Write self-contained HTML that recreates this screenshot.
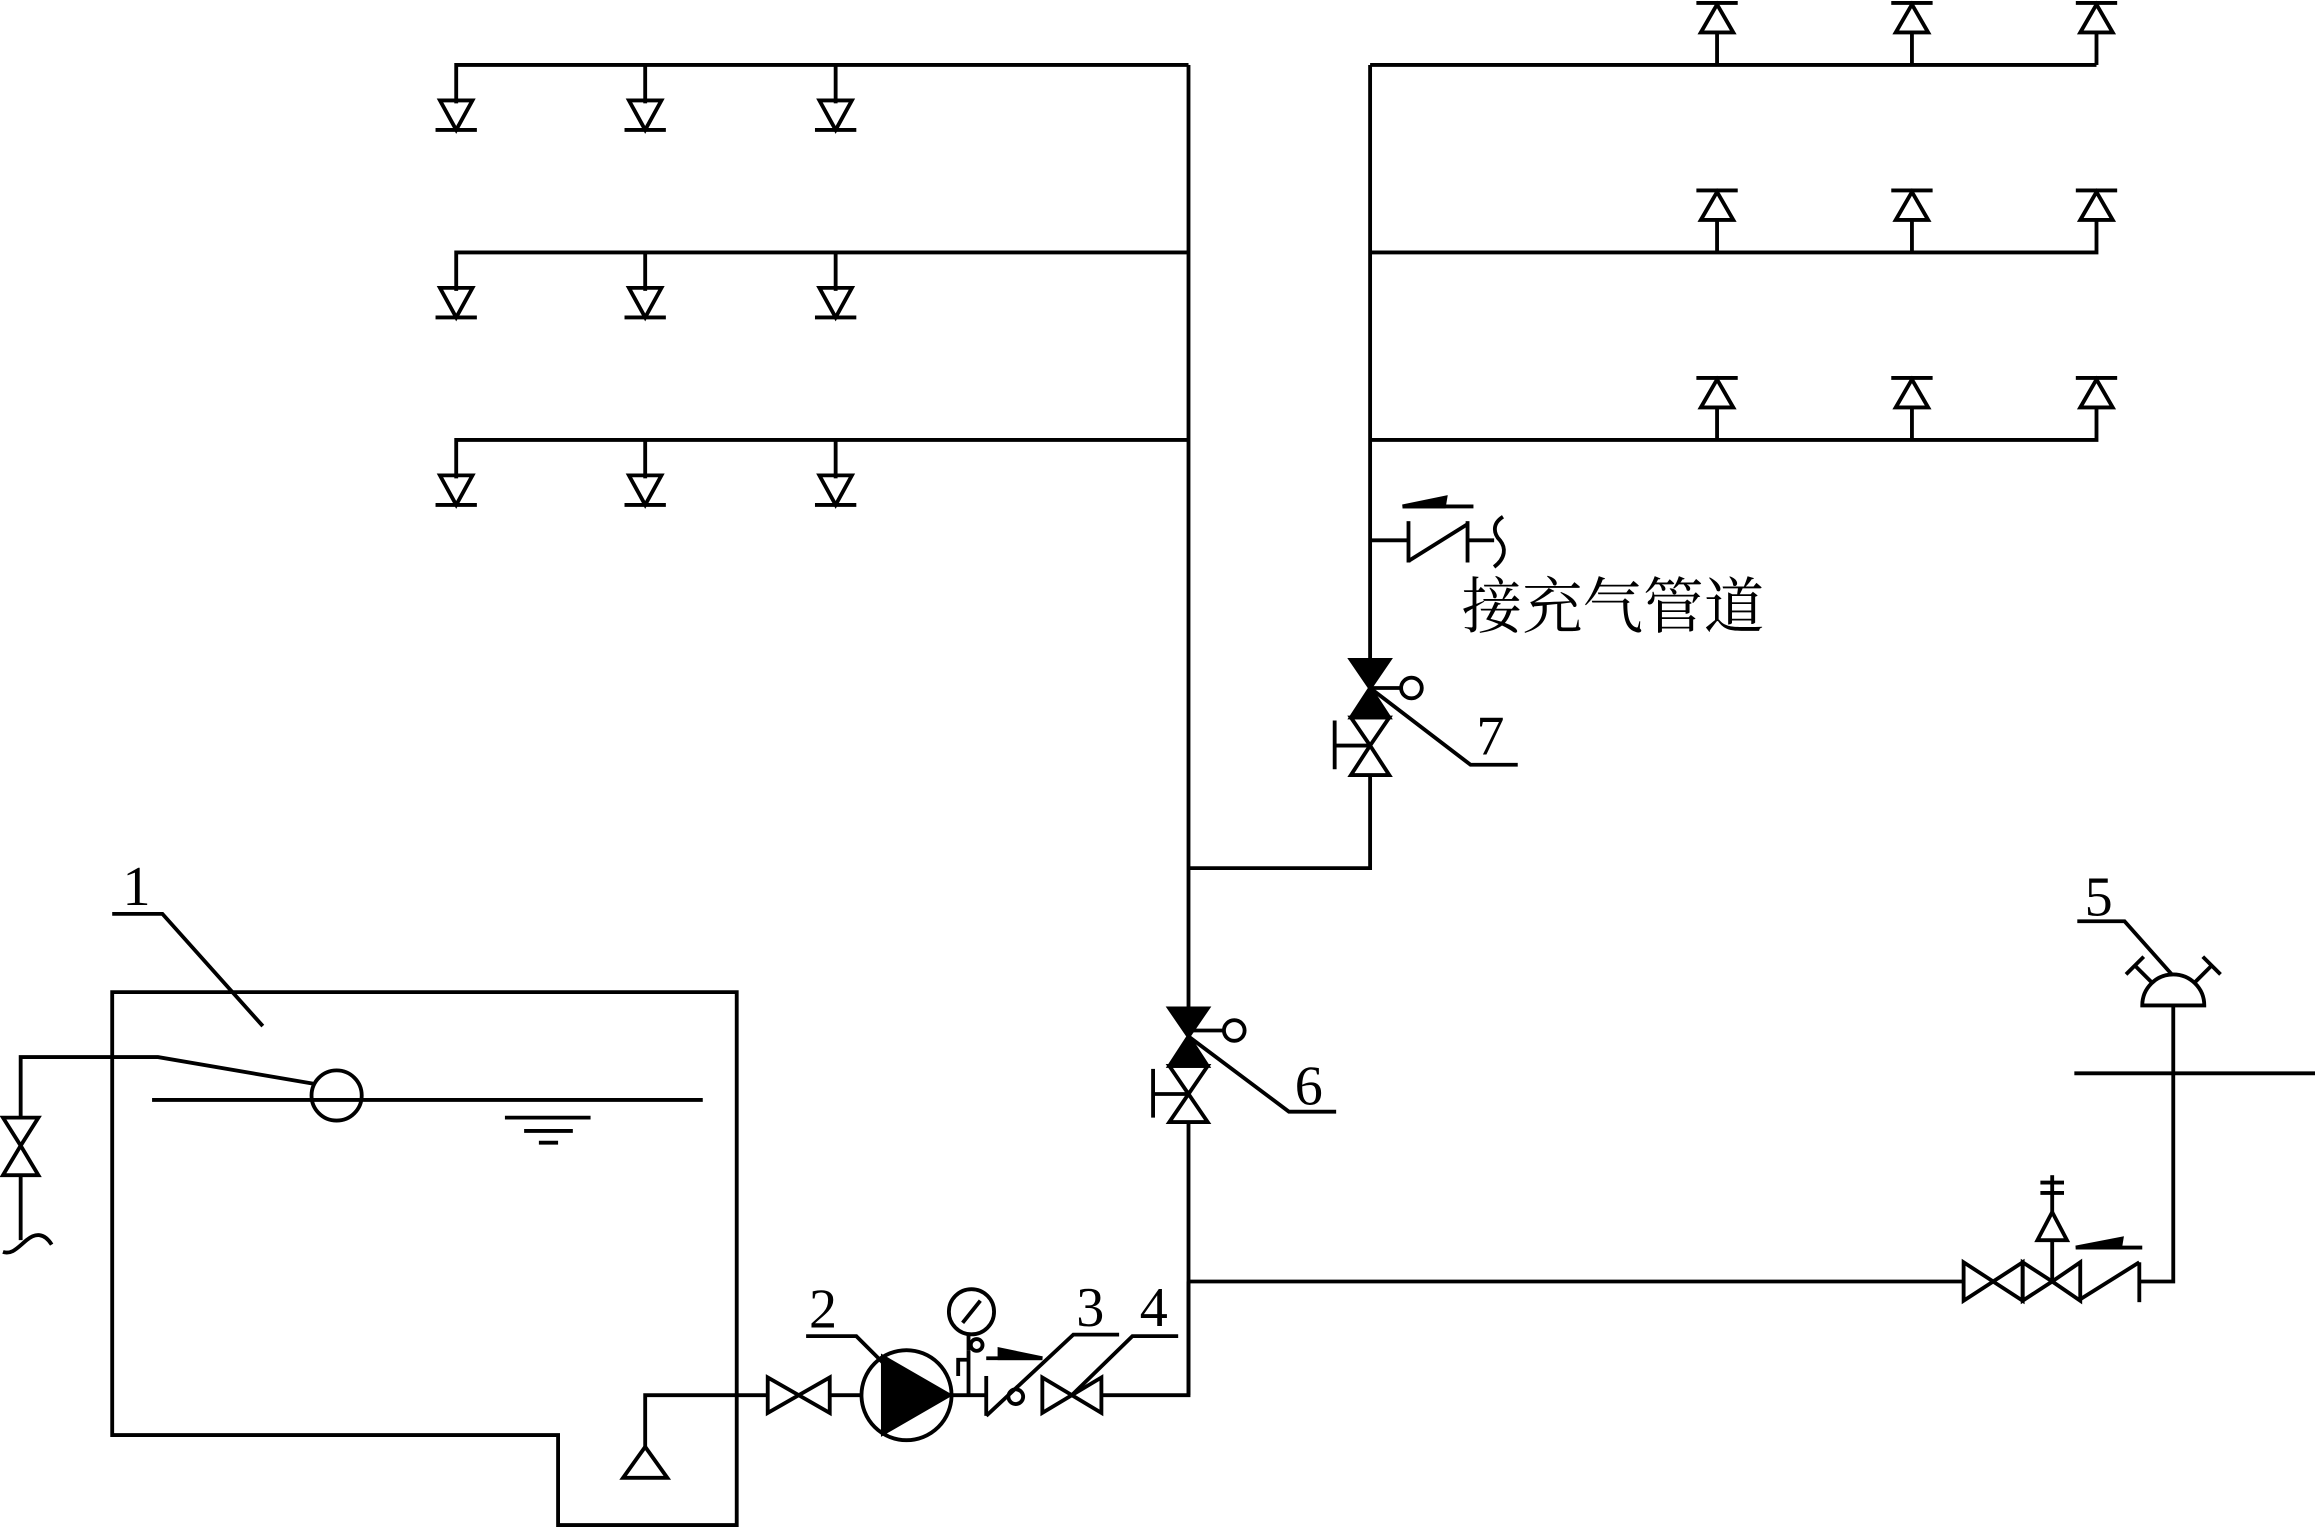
<!DOCTYPE html>
<html><head><meta charset="utf-8"><style>html,body{margin:0;padding:0;background:#fff}svg{display:block}</style></head>
<body>
<svg width="2315" height="1531" viewBox="0 0 1568 1037" preserveAspectRatio="none" xmlns="http://www.w3.org/2000/svg">
<g fill="none" stroke="#000" stroke-width="2.6" stroke-linejoin="miter">
<!-- left headers -->
<polyline points="309,70 309,44 805,44"/>
<polyline points="309,197 309,171 805,171"/>
<polyline points="309,324 309,298 805,298"/>
<line x1="437" y1="44" x2="437" y2="70"/><line x1="566" y1="44" x2="566" y2="70"/>
<line x1="437" y1="171" x2="437" y2="197"/><line x1="566" y1="171" x2="566" y2="197"/>
<line x1="437" y1="298" x2="437" y2="324"/><line x1="566" y1="298" x2="566" y2="324"/>
<!-- down sprinklers -->
<g>
<polygon points="298,68 320,68 309,88"/><line x1="295" y1="88" x2="323" y2="88"/>
<polygon points="426,68 448,68 437,88"/><line x1="423" y1="88" x2="451" y2="88"/>
<polygon points="555,68 577,68 566,88"/><line x1="552" y1="88" x2="580" y2="88"/>
<polygon points="298,195 320,195 309,215"/><line x1="295" y1="215" x2="323" y2="215"/>
<polygon points="426,195 448,195 437,215"/><line x1="423" y1="215" x2="451" y2="215"/>
<polygon points="555,195 577,195 566,215"/><line x1="552" y1="215" x2="580" y2="215"/>
<polygon points="298,322 320,322 309,342"/><line x1="295" y1="342" x2="323" y2="342"/>
<polygon points="426,322 448,322 437,342"/><line x1="423" y1="342" x2="451" y2="342"/>
<polygon points="555,322 577,322 566,342"/><line x1="552" y1="342" x2="580" y2="342"/>
</g>
<!-- main riser -->
<line x1="805" y1="44" x2="805" y2="683"/>
<line x1="805" y1="760" x2="805" y2="945"/>
<polyline points="805,588 928,588 928,525"/>
<line x1="928" y1="447" x2="928" y2="44"/>
<!-- right headers -->
<line x1="928" y1="44" x2="1420" y2="44"/>
<polyline points="928,171 1420,171 1420,149"/>
<polyline points="928,298 1420,298 1420,276"/>
<line x1="1420" y1="44" x2="1420" y2="22"/>
<line x1="1163" y1="44" x2="1163" y2="22"/><line x1="1295" y1="44" x2="1295" y2="22"/>
<line x1="1163" y1="171" x2="1163" y2="149"/><line x1="1295" y1="171" x2="1295" y2="149"/>
<line x1="1163" y1="298" x2="1163" y2="276"/><line x1="1295" y1="298" x2="1295" y2="276"/>
<g>
<polygon points="1152,22 1174,22 1163,3"/><line x1="1149" y1="2" x2="1177" y2="2"/>
<polygon points="1284,22 1306,22 1295,3"/><line x1="1281" y1="2" x2="1309" y2="2"/>
<polygon points="1409,22 1431,22 1420,3"/><line x1="1406" y1="2" x2="1434" y2="2"/>
<polygon points="1152,149 1174,149 1163,130"/><line x1="1149" y1="129" x2="1177" y2="129"/>
<polygon points="1284,149 1306,149 1295,130"/><line x1="1281" y1="129" x2="1309" y2="129"/>
<polygon points="1409,149 1431,149 1420,130"/><line x1="1406" y1="129" x2="1434" y2="129"/>
<polygon points="1152,276 1174,276 1163,257"/><line x1="1149" y1="256" x2="1177" y2="256"/>
<polygon points="1284,276 1306,276 1295,257"/><line x1="1281" y1="256" x2="1309" y2="256"/>
<polygon points="1409,276 1431,276 1420,257"/><line x1="1406" y1="256" x2="1434" y2="256"/>
</g>
<!-- air connection -->
<line x1="928" y1="366" x2="954" y2="366"/>
<line x1="954" y1="353" x2="954" y2="381"/>
<line x1="954" y1="380" x2="994" y2="355"/>
<line x1="994" y1="353" x2="994" y2="381"/>
<line x1="994" y1="366" x2="1012" y2="366"/>
<path d="M1018,350 C1010,355 1012,362 1016,366 C1020,371 1020,378 1012,384"/>
<line x1="950" y1="343" x2="998" y2="343"/>
<polygon points="950,343 979,337 978,343" fill="#000"/>
<!-- valve 7 -->
<polygon points="915,447 941,447 928,466 941,486 915,486 928,466" fill="#000"/>
<polygon points="915,486 941,486 928,505 941,525 915,525 928,505"/>
<polyline points="928,505 904,505"/><line x1="904" y1="488" x2="904" y2="521"/>
<line x1="928" y1="466" x2="949" y2="466"/><circle cx="956" cy="466" r="7"/>
<polyline points="928,466 996,518 1028,518"/>
<!-- valve 6 -->
<polygon points="792,683 818,683 805,702 818,722 792,722 805,702" fill="#000"/>
<polygon points="792,722 818,722 805,741 818,760 792,760 805,741"/>
<line x1="805" y1="741" x2="781" y2="741"/><line x1="781" y1="724" x2="781" y2="757"/>
<line x1="805" y1="698" x2="829" y2="698"/><circle cx="836" cy="698" r="7"/>
<polyline points="805,702 873,753 905,753"/>
<!-- bottom right line -->
<line x1="805" y1="868" x2="1330" y2="868"/>
<polygon points="1330,855 1330,881 1350,868 1370,881 1370,855 1350,868"/>
<polygon points="1370,855 1370,881 1390,868 1409,881 1409,855 1390,868"/>
<line x1="1409" y1="880" x2="1449" y2="855"/>
<line x1="1449" y1="855" x2="1449" y2="882"/>
<polyline points="1449,868 1472,868 1472,681"/>
<line x1="1390" y1="868" x2="1390" y2="840"/>
<polygon points="1380,840 1400,840 1390,821"/>
<line x1="1390" y1="821" x2="1390" y2="796"/>
<line x1="1382" y1="801" x2="1398" y2="801"/><line x1="1382" y1="808" x2="1398" y2="808"/>
<line x1="1406" y1="845" x2="1451" y2="845"/>
<polygon points="1406,845 1437,839 1436,845" fill="#000"/>
<line x1="1405" y1="727" x2="1568" y2="727"/>
<path d="M1451,681 A21,21 0 0 1 1493,681 Z"/>
<line x1="1458" y1="666" x2="1446" y2="654"/><line x1="1440" y1="660" x2="1452" y2="648"/>
<line x1="1486" y1="666" x2="1498" y2="654"/><line x1="1492" y1="648" x2="1504" y2="660"/>
<polyline points="1471,660 1439,624 1407,624"/>
<!-- tank -->
<polygon points="76,672 499,672 499,1033 378,1033 378,972 76,972"/>
<line x1="103" y1="745" x2="476" y2="745"/>
<circle cx="228" cy="742" r="17"/>
<polyline points="14,756 14,716 107,716 212,734"/>
<polygon points="2,757 26,757 14,776 26,796 2,796 14,776"/>
<line x1="14" y1="796" x2="14" y2="840"/>
<path d="M2,848 C8,850 12,845 18,840 C24,835 30,835 35,843"/>
<line x1="342" y1="757" x2="400" y2="757"/><line x1="355" y1="766" x2="388" y2="766"/><line x1="365" y1="774" x2="378" y2="774"/>
<polyline points="76,619 110,619 178,695"/>
<!-- pump line -->
<polyline points="437,980 437,945 520,945"/>
<polygon points="422,1001 452,1001 437,980"/>
<polygon points="520,933 520,957 541,945 562,957 562,933 541,945"/>
<line x1="562" y1="945" x2="583" y2="945"/>
<circle cx="614" cy="945" r="30.5"/>
<polygon points="598,919 598,971 643,945" fill="#000"/>
<line x1="644" y1="945" x2="668" y2="945"/>
<polyline points="546,905 580,905 598,923"/>
<line x1="656" y1="945" x2="656" y2="915"/>
<circle cx="661.5" cy="911" r="4"/>
<polyline points="649,932 649,921 656,921"/>
<line x1="656" y1="915" x2="656" y2="904"/>
<circle cx="658" cy="888.5" r="15.3"/>
<line x1="652" y1="896" x2="664" y2="881"/>
<line x1="668" y1="932" x2="668" y2="959"/>
<polyline points="668,959 727,904 758,904"/>
<circle cx="688" cy="946" r="5"/>
<line x1="668" y1="920" x2="706" y2="920"/>
<polygon points="706,920 677,914 677,920" fill="#000"/>
<polygon points="706,933 706,957 726,945 746,957 746,933 726,945"/>
<polyline points="726,945 767,905 798,905"/>
<polyline points="746,945 805,945 805,868"/>
</g>
<g font-family="Liberation Serif, serif" font-size="38" fill="#000">
<text x="83" y="613">1</text>
<text x="548" y="899">2</text>
<text x="729" y="898">3</text>
<text x="772" y="898">4</text>
<text x="1412" y="620">5</text>
<text x="877" y="748">6</text>
<text x="1000" y="511">7</text>
</g>
<text x="990" y="425" font-family="Liberation Serif, 'Noto Serif CJK SC', serif" font-size="41" fill="#000">接充气管道</text>
</svg>
</body></html>
